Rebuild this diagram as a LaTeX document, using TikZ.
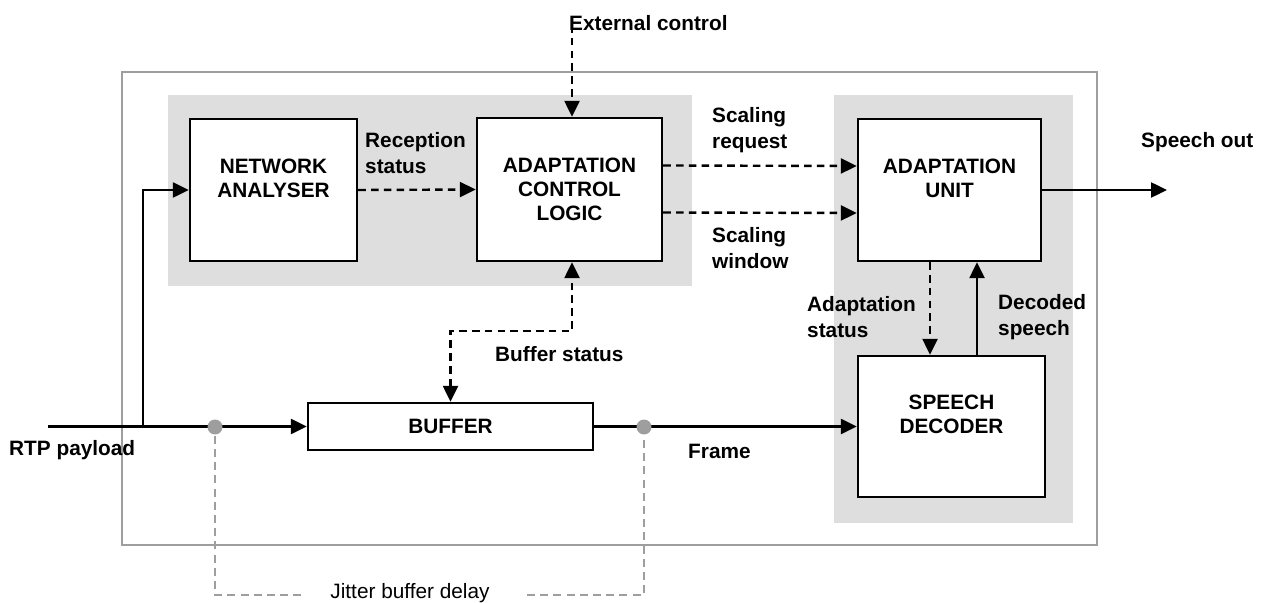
\documentclass[tikz,border=0pt]{standalone}
\usepackage{fontspec}
\setmainfont{Liberation Sans}
\usetikzlibrary{arrows.meta}
\definecolor{zone}{gray}{0.87}
\definecolor{frameg}{gray}{0.62}
\begin{document}
\begin{tikzpicture}[x=0.5pt, y=-0.5pt, line width=1.2pt,
		>={Triangle[length=8pt,width=7.5pt]},
		blk/.style={draw, fill=white, align=center, inner sep=0pt,
			font=\fontsize{10.4}{12}\selectfont\bfseries},
		lbl/.style={align=left, anchor=west, inner sep=0pt,
			font=\fontsize{10.4}{13}\selectfont\bfseries},
		dsh/.style={dash pattern=on 3.8pt off 2.6pt},
		jit/.style={frameg, line width=1pt, dash pattern=on 4pt off 2.6pt},
		dot/.style={circle, fill=frameg, inner sep=0pt, minimum size=7.5pt}]
			\useasboundingbox (0,0) rectangle (1261,603);
			%outer frame and grey zones
			\draw[frameg, line width=1.1pt] (122,72) rectangle (1097,545);
			\fill[zone] (168,95) rectangle (692,286);
			\fill[zone] (834,95) rectangle (1073,523);
			
			%blocks
			\node (na) at (273.5,190) [blk, minimum width=83.5pt, minimum height=71pt]{NETWORK\\ANALYSER\\ \mbox{}};
			\node (acl) at (569.5,189.5) [blk, minimum width=92.5pt, minimum height=71.5pt]{ADAPTATION\\CONTROL\\LOGIC};
			\node (au) at (949.5,190) [blk, minimum width=91.5pt, minimum height=71pt]{ADAPTATION\\UNIT\\ \mbox{}};
			\node (sd) at (951.5,426.5) [blk, minimum width=93.5pt, minimum height=70.5pt]{SPEECH\\DECODER\\ \mbox{}};
			\node (buf) at (450.5,426.5) [blk, minimum width=142.5pt, minimum height=23.5pt]{BUFFER};
			
			%free ends
			\coordinate (ext) at (572,25);
			\coordinate (rtp) at (48,426.5);
			\coordinate (br) at (143,426.5);
			\coordinate (out) at (1167,190);
			\coordinate (bs) at (572,331);
			\coordinate (j1) at (305,595);
			\coordinate (j2) at (527,595);
			
			%signal path
			\draw[->] (rtp) -- (buf.west);
			\draw[->] (br) |- (na.west);
			\draw[->] (buf.east) -- (sd.west);
			\draw[->] (au.east) -- (out);
			\draw[->] ([xshift=13.75pt]au.south |- sd.north) -- ([xshift=13.75pt]au.south);
			
			%control path
			\draw[dsh,->] (ext) -- (ext |- acl.north);
			\draw[dsh,->] (na.east) -- (acl.west);
			\draw[dsh,->] ([yshift=12pt]acl.east) -- ([yshift=12pt]au.west);
			\draw[dsh,->] ([yshift=-11.5pt]acl.east) -- ([yshift=-11.5pt]au.west);
			\draw[dsh,->] ([xshift=-9.75pt]au.south) -- ([xshift=-9.75pt]au.south |- sd.north);
			\draw[dsh,<->] (buf.north) |- (bs) -- (bs |- acl.south);
			
			%jitter buffer delay
			\node (d1) at (215,427) [dot]{};
			\node (d2) at (644,427) [dot]{};
			\draw[jit] (d1.south) |- (j1);
			\draw[jit] (j2) -| (d2.south);
			\node (jbd) at (410,593) [inner sep=0pt, font=\fontsize{10.4}{12}\selectfont]{Jitter buffer delay};
			
			%labels
			\node (extl) at (568,23) [lbl]{External control};
			\node (rs) at (364,153) [lbl]{Reception\\status};
			\node (sr) at (711,130) [lbl]{Scaling\\request};
			\node (sw) at (711,248) [lbl]{Scaling\\window};
			\node (so) at (1140,142) [lbl]{Speech out};
			\node (as) at (806,317) [lbl]{Adaptation\\status};
			\node (ds) at (997,317) [lbl]{Decoded\\speech};
			\node (bsl) at (494,354) [lbl]{Buffer status};
			\node (rtpl) at (8,450) [lbl]{RTP payload};
			\node (fr) at (687,451) [lbl]{Frame};
		\end{tikzpicture}
\end{document}
